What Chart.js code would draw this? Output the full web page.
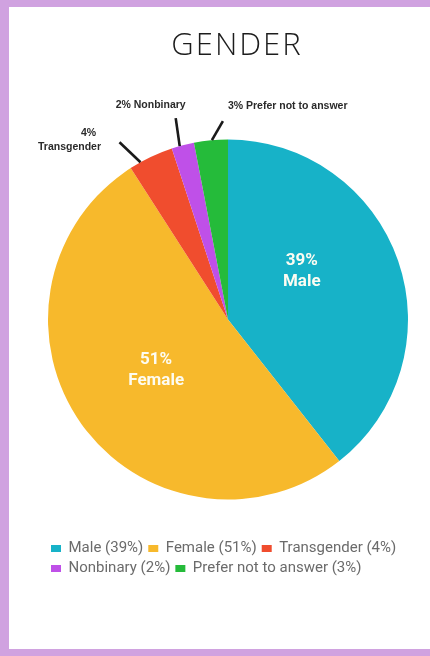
<!DOCTYPE html>
<html><head><meta charset="utf-8">
<script src="https://cdn.jsdelivr.net/npm/chart.js@4"></script>
<style>
html,body{margin:0;padding:0;width:430px;height:656px;overflow:hidden;background:#d0a2e0;}
#panel{position:absolute;left:9px;top:7px;width:421px;height:642px;background:#ffffff;}
#wrap{position:absolute;left:0;top:0;width:430px;height:656px;}
</style></head><body>
<div id="panel"></div>
<div id="wrap"><canvas id="c"></canvas></div>
<script>
const chartTitle = 'GENDER';
const categories = ['Male', 'Female', 'Transgender', 'Nonbinary', 'Prefer not to answer'];
const percentages = [39, 51, 4, 2, 3];
const colors = ['#17b2c8', '#f7b92c', '#f04d2e', '#bf50e8', '#25bb3a'];

const sliceLabels = {
  id: 'sliceLabels',
  afterDatasetsDraw(chart, args, opts) {
    const ctx = chart.ctx;
    const meta = chart.getDatasetMeta(0);
    meta.data.forEach((arc, i) => {
      const p = arc.getProps(['x', 'y', 'startAngle', 'endAngle', 'outerRadius'], true);
      const cfg = opts.items[i];
      const a = p.startAngle + (p.endAngle - p.startAngle) * cfg.at;
      ctx.save();
      if (cfg.inside) {
        const r = p.outerRadius * cfg.r;
        const cx = p.x + Math.cos(a) * r, cy = p.y + Math.sin(a) * r;
        ctx.fillStyle = '#fdfcf2';
        ctx.font = "bold 17px Roboto";
        ctx.textAlign = 'center';
        ctx.textBaseline = 'middle';
        ctx.fillText(percentages[i] + '%', cx, cy - 10.5);
        ctx.fillText(categories[i], cx, cy + 10.5);
      } else {
        const sx = p.x + Math.cos(a) * p.outerRadius, sy = p.y + Math.sin(a) * p.outerRadius;
        const ex = sx + cfg.dx, ey = sy + cfg.dy;
        ctx.strokeStyle = '#1a1a1a';
        ctx.lineWidth = 2.6;
        ctx.beginPath(); ctx.moveTo(sx, sy); ctx.lineTo(ex, ey); ctx.stroke();
        ctx.fillStyle = '#2a2a2a';
        ctx.font = "bold 10.5px 'Liberation Sans'";
        ctx.textBaseline = 'middle';
        if (cfg.split) {
          ctx.textAlign = 'center';
          ctx.fillText(percentages[i] + '%', ex + cfg.t1x, ey + cfg.t1y);
          ctx.fillText(categories[i], ex + cfg.t2x, ey + cfg.t2y);
        } else {
          ctx.textAlign = cfg.align;
          ctx.fillText(percentages[i] + '% ' + categories[i], ex + cfg.tx, ey + cfg.ty);
        }
      }
      ctx.restore();
    });
  }
};

const titlePlugin = {
  id: 'titleText',
  afterDraw(chart) {
    const ctx = chart.ctx;
    ctx.save();
    ctx.fillStyle = '#1c1c1c';
    ctx.font = "300 31px 'Open Sans'";
    ctx.letterSpacing = '2px';
    ctx.textAlign = 'center';
    ctx.textBaseline = 'middle';
    ctx.fillText(chartTitle, 237, 46);
    ctx.restore();
  }
};

new Chart(document.getElementById('c'), {
  type: 'pie',
  data: {
    labels: categories,
    datasets: [{ data: percentages, backgroundColor: colors, borderWidth: 0 }]
  },
  options: {
    responsive: true,
    maintainAspectRatio: false,
    devicePixelRatio: 1,
    animation: false,
    radius: 180,
    layout: { padding: { left: 46, right: 20, top: 103, bottom: 70 } },
    plugins: {
      tooltip: { enabled: false },
      legend: {
        position: 'bottom',
        align: 'start',
        labels: {
          boxWidth: 10,
          boxHeight: 7,
          padding: 5,
          color: '#6b6b6b',
          font: { family: 'Roboto', size: 15 },
          generateLabels: () => categories.map((c, i) => ({
            text: c + ' (' + percentages[i] + '%)',
            fillStyle: colors[i], strokeStyle: colors[i], lineWidth: 0,
            hidden: false, index: i, fontColor: '#6b6b6b'
          }))
        }
      },
      sliceLabels: {
        items: [
          { inside: true, at: 0.4, r: 0.49 },
          { inside: true, at: 0.5, r: 0.49 },
          { at: 0.25, dx: -21, dy: -20, split: true, t1x: -31, t1y: -9, t2x: -50, t2y: 5 },
          { at: 0.36, dx: -4, dy: -28, align: 'center', tx: -25, ty: -13 },
          { at: 0.53, dx: 11, dy: -19, align: 'left', tx: 5, ty: -15 }
        ]
      }
    }
  },
  plugins: [sliceLabels, titlePlugin]
});
</script>
</body></html>
